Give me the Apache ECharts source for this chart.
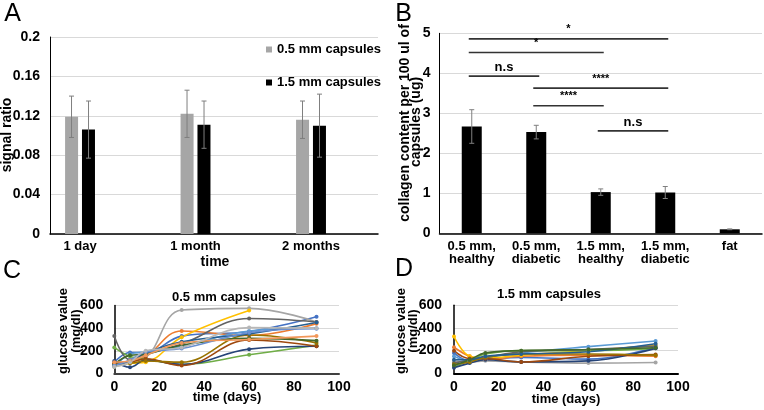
<!DOCTYPE html>
<html><head><meta charset="utf-8">
<script src="https://cdn.jsdelivr.net/npm/echarts@6/dist/echarts.min.js"></script>
<style>html,body{margin:0;padding:0;background:#fff}#c{width:764px;height:410px}</style>
</head><body><div id="c"></div>
<script>
// ---------- Panel A ----------
const categoriesA = ['1 day', '1 month', '2 months'];
const signal05 = [0.119, 0.122, 0.116];
const signal05Err = [0.021, 0.024, 0.019];
const signal15 = [0.106, 0.111, 0.110];
const signal15Err = [0.029, 0.024, 0.032];
const legendA = ['0.5 mm capsules', '1.5 mm capsules'];

// ---------- Panel B ----------
const categoriesB = ['0.5 mm,\nhealthy', '0.5 mm,\ndiabetic', '1.5 mm,\nhealthy', '1.5 mm,\ndiabetic', 'fat'];
const collagen = [2.67, 2.53, 1.03, 1.02, 0.10];
const collagenErr = [0.42, 0.17, 0.08, 0.15, 0.01];
const sigFrom = [0, 0, 0, 1, 1, 2];
const sigTo = [3, 2, 1, 3, 2, 3];
const sigLevel = [4.86, 4.52, 3.93, 3.63, 3.19, 2.56];
const sigText = ['*', '*', 'n.s', '****', '****', 'n.s'];

// ---------- Panel C (0.5 mm capsules) ----------
const daysC = [0, 7, 14, 30, 60, 90];
const glucoseC1 = [100, 185, 185, 330, 370, 500];
const glucoseC2 = [90, 100, 150, 375, 335, 440];
const glucoseC3 = [80, 110, 140, 560, 575, 455];
const glucoseC4 = [60, 90, 100, 320, 555];
const glucoseC5 = [60, 170, 190, 240, 375, 400];
const glucoseC6 = [230, 150, 130, 80, 165, 250];
const glucoseC7 = [110, 55, 120, 80, 215, 240];
const glucoseC8 = [90, 100, 130, 70, 295, 240];
const glucoseC9 = [330, 120, 170, 260, 485, 455];
const glucoseC10 = [80, 90, 110, 100, 340, 270];
const glucoseC11 = [70, 110, 180, 280, 350, 450];
const glucoseC12 = [80, 160, 170, 250, 310, 290];
const glucoseC13 = [70, 120, 190, 220, 360, 395];
const glucoseC14 = [100, 110, 160, 270, 300, 330];
const glucoseC15 = [60, 100, 200, 230, 405, 400];

// ---------- Panel D (1.5 mm capsules) ----------
const daysD = [0, 7, 14, 30, 60, 90];
const glucoseD1 = [180, 110, 120, 140, 125, 230];
const glucoseD2 = [230, 150, 120, 150, 160, 150];
const glucoseD3 = [110, 100, 110, 100, 90, 95];
const glucoseD4 = [325, 150, 135, 160, 200, 250];
const glucoseD5 = [150, 110, 140, 180, 235, 285];
const glucoseD6 = [60, 110, 170, 200, 200, 220];
const glucoseD7 = [50, 90, 120, 100, 110, 220];
const glucoseD8 = [200, 130, 130, 100, 150, 165];
const glucoseD9 = [90, 120, 140, 190, 210, 240];
const glucoseD10 = [80, 100, 140, 170, 170, 160];
const glucoseD11 = [120, 120, 150, 170, 190, 260];
const glucoseD12 = [70, 120, 180, 200, 210, 225];

const glucoseC = [glucoseC1, glucoseC2, glucoseC3, glucoseC4, glucoseC5, glucoseC6, glucoseC7, glucoseC8,
  glucoseC9, glucoseC10, glucoseC11, glucoseC12, glucoseC13, glucoseC14, glucoseC15];
const glucoseD = [glucoseD1, glucoseD2, glucoseD3, glucoseD4, glucoseD5, glucoseD6, glucoseD7, glucoseD8,
  glucoseD9, glucoseD10, glucoseD11, glucoseD12];
const lineColors = ['#4472C4', '#ED7D31', '#A5A5A5', '#FFC000', '#5B9BD5', '#70AD47', '#264478', '#9E480E',
  '#636363', '#997300', '#255E91', '#43682B', '#698ED0', '#F1975A', '#B7B7B7'];

const FONT = '"Liberation Sans", Arial, Helvetica, sans-serif';
const chart = echarts.init(document.getElementById('c'), null, { renderer: 'canvas' });

function errBar(offset, color, cap) {
  return function (params, api) {
    const x = api.value(0), v = api.value(1), e = api.value(2);
    const hi = api.coord([x, v + e]);
    const lo = api.coord([x, v - e]);
    const cx = hi[0] + offset;
    const st = { stroke: color, lineWidth: 1 };
    return {
      type: 'group', children: [
        { type: 'line', shape: { x1: cx, y1: hi[1], x2: cx, y2: lo[1] }, style: st },
        { type: 'line', shape: { x1: cx - cap, y1: hi[1], x2: cx + cap, y2: hi[1] }, style: st },
        { type: 'line', shape: { x1: cx - cap, y1: lo[1], x2: cx + cap, y2: lo[1] }, style: st }
      ]
    };
  };
}

const gridLine = { show: true, lineStyle: { color: '#D9D9D9', width: 1 } };
const tickLabel = { color: '#000', fontSize: 14, fontWeight: 'bold', fontFamily: FONT };

const series = [
  { type: 'bar', name: legendA[0], xAxisIndex: 0, yAxisIndex: 0, barWidth: 13, barGap: '30%',
    itemStyle: { color: '#A6A6A6' }, data: signal05.map((v, i) => [i, v]) },
  { type: 'bar', name: legendA[1], xAxisIndex: 0, yAxisIndex: 0, barWidth: 13, barGap: '30%',
    itemStyle: { color: '#000000' }, data: signal15.map((v, i) => [i, v]) },
  { type: 'custom', xAxisIndex: 0, yAxisIndex: 0, renderItem: errBar(-8.5, '#7F7F7F', 2.5), z: 5,
    encode: { x: 0, y: 1 }, data: signal05.map((v, i) => [i, v, signal05Err[i]]) },
  { type: 'custom', xAxisIndex: 0, yAxisIndex: 0, renderItem: errBar(8.5, '#7F7F7F', 2.5), z: 5,
    encode: { x: 0, y: 1 }, data: signal15.map((v, i) => [i, v, signal15Err[i]]) },

  { type: 'bar', xAxisIndex: 1, yAxisIndex: 1, barWidth: 20, itemStyle: { color: '#000' }, data: collagen },
  { type: 'custom', xAxisIndex: 1, yAxisIndex: 1, renderItem: errBar(0, '#7F7F7F', 2.5), z: 5,
    encode: { x: 0, y: 1 }, data: collagen.map((v, i) => [i, v, collagenErr[i]]) },
  { type: 'custom', xAxisIndex: 1, yAxisIndex: 1, z: 6, clip: false,
    encode: { x: [0, 1], y: 2 },
    data: sigFrom.map((f, i) => [f, sigTo[i], sigLevel[i]]),
    renderItem: function (params, api) {
      const p1 = api.coord([api.value(0), api.value(2)]);
      const p2 = api.coord([api.value(1), api.value(2)]);
      const t = sigText[params.dataIndex];
      const isNs = t === 'n.s';
      return {
        type: 'group', children: [
          { type: 'line', shape: { x1: p1[0] - 3, y1: p1[1], x2: p2[0] + 3, y2: p2[1] },
            style: { stroke: '#333', lineWidth: 1.6 } },
          { type: 'text', x: (p1[0] + p2[0]) / 2, y: p1[1] - (isNs ? 2 : 4),
            style: { text: t, fill: '#000', align: 'center', verticalAlign: 'bottom',
              font: 'bold ' + (isNs ? 13 : 11) + 'px ' + FONT } }
        ]
      };
    } }
];

glucoseC.forEach((arr, k) => {
  series.push({ type: 'line', xAxisIndex: 2, yAxisIndex: 2, smooth: 0.4, symbol: 'circle', symbolSize: 4,
    showSymbol: true, lineStyle: { width: 1.6, color: lineColors[k] }, itemStyle: { color: lineColors[k] },
    data: arr.map((v, i) => [daysC[i], v]) });
});
glucoseD.forEach((arr, k) => {
  series.push({ type: 'line', xAxisIndex: 3, yAxisIndex: 3, smooth: 0.4, symbol: 'circle', symbolSize: 4,
    showSymbol: true, lineStyle: { width: 1.6, color: lineColors[k] }, itemStyle: { color: lineColors[k] },
    data: arr.map((v, i) => [daysD[i], v]) });
});

function txt(x, y, text, size, opts) {
  opts = opts || {};
  return { type: 'text', x: x, y: y, rotation: opts.rot || 0, z: 10,
    style: { text: text, fill: '#000', align: 'center', verticalAlign: 'middle',
      font: (opts.weight || 'bold') + ' ' + size + 'px ' + FONT } };
}
const ROT = Math.PI / 2;

const option = {
  animation: false,
  backgroundColor: '#fff',
  textStyle: { fontFamily: FONT },
  legend: {
    data: legendA, orient: 'vertical', left: 266, top: 43, itemWidth: 6, itemHeight: 6, icon: 'rect',
    itemGap: 20, padding: 0,
    textStyle: { fontSize: 13, fontWeight: 'bold', color: '#000', fontFamily: FONT }
  },
  grid: [
    { left: 50, top: 37, width: 328, height: 197, containLabel: false },
    { left: 439.5, top: 33.3, width: 322.5, height: 200, containLabel: false },
    { left: 114.3, top: 305.5, width: 224.7, height: 68, containLabel: false },
    { left: 454, top: 305.3, width: 224, height: 68, containLabel: false }
  ],
  xAxis: [
    { type: 'value', gridIndex: 0, min: -0.26, max: 2.58,
      axisLine: { show: true, onZero: false, lineStyle: { color: '#000', width: 1.5 } }, axisTick: { show: false },
      splitLine: { show: false },
      axisLabel: Object.assign({}, tickLabel, { fontSize: 13, margin: 6, customValues: [0, 1, 2],
        formatter: v => categoriesA[Math.round(v)] }) },
    { type: 'category', gridIndex: 1, data: categoriesB,
      axisLine: { lineStyle: { color: '#000', width: 1.5 } }, axisTick: { show: false },
      axisLabel: Object.assign({}, tickLabel, { fontSize: 13, lineHeight: 12.5, margin: 7, interval: 0 }) },
    { type: 'value', gridIndex: 2, min: 0, max: 100, interval: 20,
      axisLine: { show: true, onZero: false, lineStyle: { color: '#404040', width: 2 } }, axisTick: { show: false },
      splitLine: { show: false }, axisLabel: Object.assign({}, tickLabel, { margin: 7 }) },
    { type: 'value', gridIndex: 3, min: 0, max: 100, interval: 20,
      axisLine: { show: true, onZero: false, lineStyle: { color: '#000', width: 2 } }, axisTick: { show: false },
      splitLine: { show: false }, axisLabel: Object.assign({}, tickLabel, { margin: 7 }) }
  ],
  yAxis: [
    { type: 'value', gridIndex: 0, min: 0, max: 0.2, interval: 0.04,
      axisLine: { show: true, onZero: false, lineStyle: { color: '#000', width: 1 } }, axisTick: { show: false },
      splitLine: gridLine, axisLabel: Object.assign({}, tickLabel, { margin: 10 }) },
    { type: 'value', gridIndex: 1, min: 0, max: 5, interval: 1,
      axisLine: { show: true, onZero: false, lineStyle: { color: '#000', width: 1 } }, axisTick: { show: false },
      splitLine: gridLine, axisLabel: Object.assign({}, tickLabel, { margin: 9 }) },
    { type: 'value', gridIndex: 2, min: 0, max: 600, interval: 200,
      axisLine: { show: true, onZero: false, lineStyle: { color: '#000', width: 1.5 } }, axisTick: { show: false },
      splitLine: gridLine, axisLabel: Object.assign({}, tickLabel, { margin: 11 }) },
    { type: 'value', gridIndex: 3, min: 0, max: 600, interval: 200,
      axisLine: { show: true, onZero: false, lineStyle: { color: '#000', width: 1.5 } }, axisTick: { show: false },
      splitLine: gridLine, axisLabel: Object.assign({}, tickLabel, { margin: 12 }) }
  ],
  graphic: [
    txt(12.5, 14, 'A', 25, { weight: 'normal' }),
    txt(403.5, 14, 'B', 25, { weight: 'normal' }),
    txt(12, 271, 'C', 25, { weight: 'normal' }),
    txt(404, 269, 'D', 25, { weight: 'normal' }),
    txt(7.5, 135, 'signal ratio', 14, { rot: ROT }),
    txt(215, 262, 'time', 14),
    txt(405.5, 123, 'collagen content per 100 ul of', 14, { rot: ROT }),
    txt(416.5, 122, 'capsules (ug)', 14, { rot: ROT }),
    txt(224, 297, '0.5 mm capsules', 13),
    txt(549, 294, '1.5 mm capsules', 13),
    txt(63, 331, 'glucose value', 13, { rot: ROT }),
    txt(76, 331, '(mg/dl)', 13, { rot: ROT }),
    txt(401.5, 331, 'glucose value', 13, { rot: ROT }),
    txt(413.5, 331, '(mg/dl)', 13, { rot: ROT }),
    txt(227, 397, 'time (days)', 13),
    txt(566, 399, 'time (days)', 13)
  ],
  series: series
};
chart.setOption(option);
</script>
</body></html>
